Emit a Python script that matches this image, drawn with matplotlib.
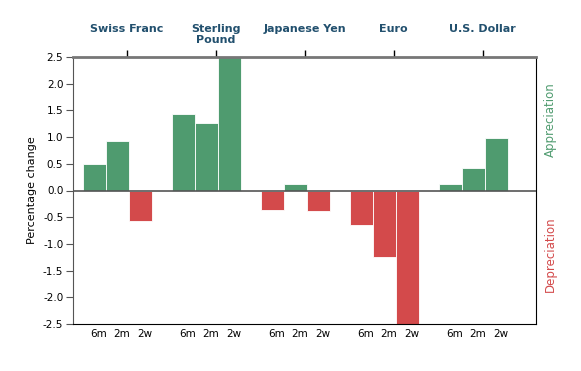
import numpy as np
import matplotlib
matplotlib.use('Agg')
import matplotlib.pyplot as plt
import matplotlib.transforms as mtransforms

# currencies and their percentage changes over 6 months, 2 months, 2 weeks
currencies = ['Swiss Franc', 'Sterling\nPound', 'Japanese Yen', 'Euro', 'U.S. Dollar']
periods = ['6m', '2m', '2w']
change_6m = [0.49, 1.43, -0.37, -0.65, 0.12]
change_2m = [0.93, 1.26, 0.12, -1.24, 0.42]
change_2w = [-0.57, 2.5, -0.38, -2.5, 0.98]
yticks = [2.5, 2.0, 1.5, 1.0, 0.5, 0.0, -0.5, -1.0, -1.5, -2.0, -2.5]

GREEN = '#4f9b6f'
RED = '#d34a4b'
TITLE = '#22506e'

fig = plt.figure(figsize=(5.81, 3.71), dpi=100)
ax = fig.add_axes([73 / 581, 47 / 371, 463 / 581, 267 / 371])

# x in pixel-like units: group step 89, bar step 23
step = 89
bw = 23
values = np.array([change_6m, change_2m, change_2w])
for i in range(len(currencies)):
    for j in range(len(periods)):
        v = values[j][i]
        xc = 10 + step * i + bw * j + bw / 2
        ax.bar(xc, v, width=bw, color=GREEN if v >= 0 else RED,
               edgecolor='#ffffff', linewidth=0.6, zorder=2)
        ax.text(xc + 4, -2.69, periods[j], ha='center', va='center', fontsize=7.5)

ax.set_xlim(0, 463)
ax.set_ylim(-2.5, 2.5)
ax.axhline(0, color='#555555', lw=1.2, zorder=3)

ax.set_yticks(yticks)
ax.set_yticklabels(['%.1f' % t for t in yticks], fontsize=7.5)
ax.tick_params(axis='y', length=5, color='#555555', pad=2)
ax.set_xticks([])
ax.set_ylabel('Percentage change', fontsize=8, labelpad=4)

ax.spines['left'].set_color('#555555')
ax.spines['top'].set_color('#777777')
ax.spines['top'].set_linewidth(2)
ax.spines['right'].set_color('black')
ax.spines['bottom'].set_color('black')

# group ticks and titles on top
top = ax.secondary_xaxis('top')
centers = [53.5 + step * i for i in range(len(currencies))]
top.set_xticks(centers)
top.set_xticklabels([''] * len(centers))
top.tick_params(length=5, width=1, color='black')
top.spines['top'].set_visible(False)

trans = mtransforms.blended_transform_factory(ax.transData, fig.transFigure)
for c, name in zip(centers, currencies):
    ax.text(c, 1 - 24 / 371, name, transform=trans, ha='center', va='top',
            fontsize=8, fontweight='bold', color=TITLE, linespacing=1.1)

fig.text(550 / 581, 1 - 120 / 371, 'Appreciation', rotation=90, color=GREEN,
         ha='center', va='center', fontsize=8.5)
fig.text(550 / 581, 1 - 254 / 371, 'Depreciation', rotation=90, color=RED,
         ha='center', va='center', fontsize=8.5)

plt.savefig('out.png', dpi=100)
